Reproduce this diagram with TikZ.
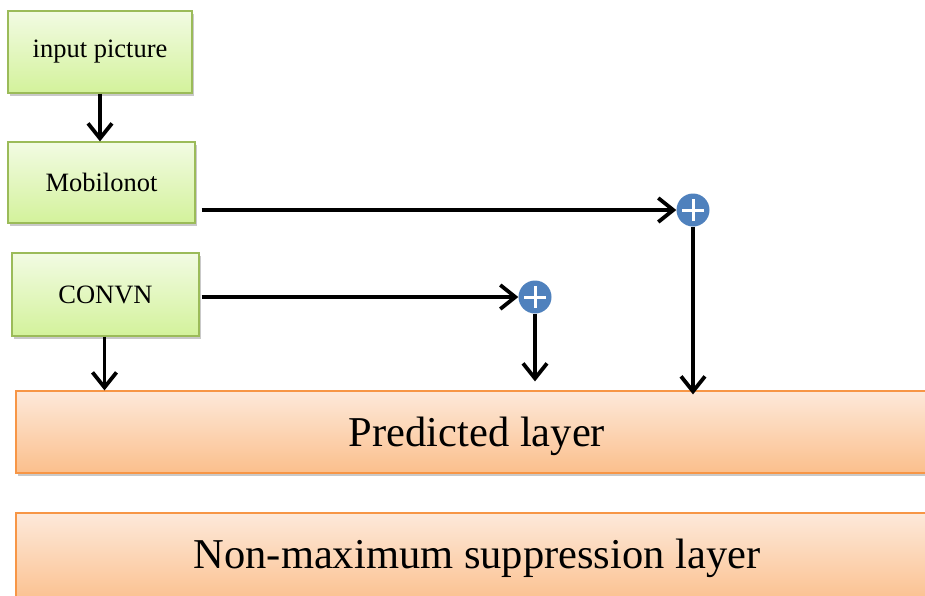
\documentclass[tikz,border=0pt]{standalone}
\usepackage{fontspec}
\setmainfont{Liberation Serif}
\usetikzlibrary{arrows.meta,shadows,calc}
\definecolor{gtop}{HTML}{F2FBE3}
\definecolor{gbot}{HTML}{D3F29B}
\definecolor{gline}{HTML}{9BBB59}
\definecolor{otop}{HTML}{FDE9DA}
\definecolor{obot}{HTML}{FBBF8C}
\definecolor{oline}{HTML}{F79646}
\definecolor{cblue}{HTML}{4F81BD}
\newcommand{\lowtext}[1]{\raisebox{-3pt}{#1}}
\tikzset{
  greenbox/.style={draw=gline, line width=1.2pt, top color=gtop, bottom color=gbot,
    minimum width=184pt, minimum height=82pt, inner sep=0pt,
    font=\fontsize{26.5}{30}\selectfont,
    drop shadow={shadow xshift=1.5pt, shadow yshift=-3pt, opacity=0.35, fill=black!60}},
  orangebox/.style={draw=oline, line width=1.2pt, top color=otop, bottom color=obot,
    inner sep=0pt,
    drop shadow={shadow xshift=1.5pt, shadow yshift=-3pt, opacity=0.35, fill=black!60}},
  bigtext/.style={font=\fontsize{42.5}{48}\selectfont, inner sep=0pt},
  sumnode/.style={circle, fill=cblue, minimum size=33pt, inner sep=0pt,
    path picture={
      \draw[white, line width=3pt]
        ($(path picture bounding box.center)+(0,11pt)$) -- ($(path picture bounding box.center)+(0,-11pt)$)
        ($(path picture bounding box.center)+(11pt,0)$) -- ($(path picture bounding box.center)+(-11pt,0)$);}},
  conn/.style={line width=3.8pt, -{Straight Barb[length=15pt,width=24pt,line width=3.8pt]}},
}
\begin{document}
\begin{tikzpicture}[x=1pt,y=-1pt]
\useasboundingbox (0,0) rectangle (925,595);
\clip (0,0) rectangle (925,595);
\fill[white] (0,0) rectangle (925,595);
\node[greenbox] (in) at (100,52) {\lowtext{input picture}};
\node[greenbox, minimum width=187pt, minimum height=81pt] (mob) at (101.5,182.5) {\lowtext{Mobilonot}};
\node[greenbox, minimum width=187pt, minimum height=83pt] (conv) at (105.5,294.5) {\lowtext{CONVN}};
\node[orangebox, minimum width=930pt, minimum height=82pt] (pred) at (481,432) {};
\node[bigtext] (predt) at (477,436) {Predicted layer};
\node[orangebox, minimum width=930pt, minimum height=92pt] (nms) at (481,559) {};
\node[bigtext] (nmst) at (477,558) {Non-maximum suppression layer};
\node[sumnode] (c1) at (693,210) {};
\node[sumnode] (c2) at (535,297) {};
\draw[conn] (in.south) -- (in.south |- mob.north);
\draw[conn, shorten <=6pt] (mob.east |- c1) -- (c1.west);
\draw[conn, shorten <=2pt] (conv.east |- c2) -- (c2.west);
\draw[conn] ([xshift=-1pt]conv.south) -- ([xshift=-1pt]conv.south |- pred.north);
\draw[conn, shorten >=9pt] (c2.south) -- (c2.south |- pred.north);
\draw[conn, shorten >=-4pt] (c1.south) -- (c1.south |- pred.north);
\end{tikzpicture}
\end{document}
